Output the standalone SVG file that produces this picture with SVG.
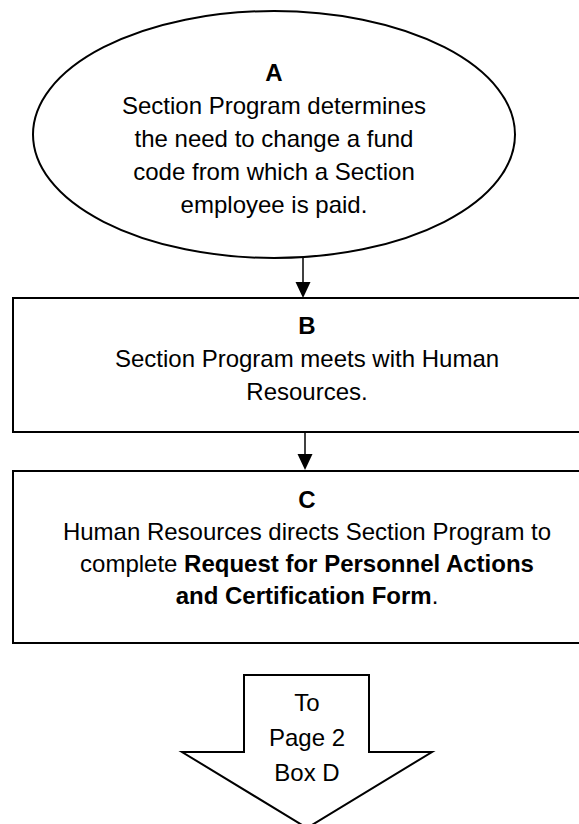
<svg xmlns="http://www.w3.org/2000/svg" width="579" height="824" viewBox="0 0 579 824">
<style>
.s{fill:#fff;stroke:#000;stroke-width:2}
.t{font-family:"Liberation Sans",Arial,sans-serif;font-size:24px;text-anchor:middle;fill:#000}
.b{font-weight:bold}
.c{stroke:#000;stroke-width:1.5;fill:none}
</style>
<defs>
<marker id="ah" markerWidth="16" markerHeight="16" refX="8" refY="16" orient="auto" markerUnits="userSpaceOnUse" viewBox="0 0 16 16">
<path d="M0,0 L16,0 L8,16 Z" fill="#000" transform="rotate(-90 8 8)"/>
</marker>
</defs>
<rect width="579" height="824" fill="#fff"/>
<g id="connectors">
<line class="c" x1="303" y1="258" x2="303" y2="282"/>
<path d="M295.5,282 L310.5,282 L303,298 Z" fill="#000"/>
<line class="c" x1="305" y1="432" x2="305" y2="454"/>
<path d="M297.5,454 L312.5,454 L305,470 Z" fill="#000"/>
</g>
<g id="nodeA">
<ellipse class="s" cx="274" cy="134.5" rx="241" ry="123.5"/>
<text class="t b" x="274" y="81">A</text>
<text class="t" x="274" y="114">Section Program determines</text>
<text class="t" x="274" y="147">the need to change a fund</text>
<text class="t" x="274" y="180">code from which a Section</text>
<text class="t" x="274" y="213">employee is paid.</text>
</g>
<g id="nodeB">
<rect class="s" x="13" y="298" width="590" height="134"/>
<text class="t b" x="307" y="334">B</text>
<text class="t" x="307" y="367">Section Program meets with Human</text>
<text class="t" x="307" y="400">Resources.</text>
</g>
<g id="nodeC">
<rect class="s" x="13" y="471" width="590" height="172"/>
<text class="t b" x="307" y="508">C</text>
<text class="t" x="307" y="540">Human Resources directs Section Program to</text>
<text class="t" x="307" y="572">complete <tspan class="b">Request for Personnel Actions</tspan></text>
<text class="t" x="307" y="604"><tspan class="b">and Certification Form</tspan>.</text>
</g>
<g id="nodeD">
<path class="s" d="M244,675 L369,675 L369,752 L432,752 L307,828 L182,752 L244,752 Z"/>
<text class="t" x="307" y="711">To</text>
<text class="t" x="307" y="746">Page 2</text>
<text class="t" x="307" y="781">Box D</text>
</g>
</svg>
